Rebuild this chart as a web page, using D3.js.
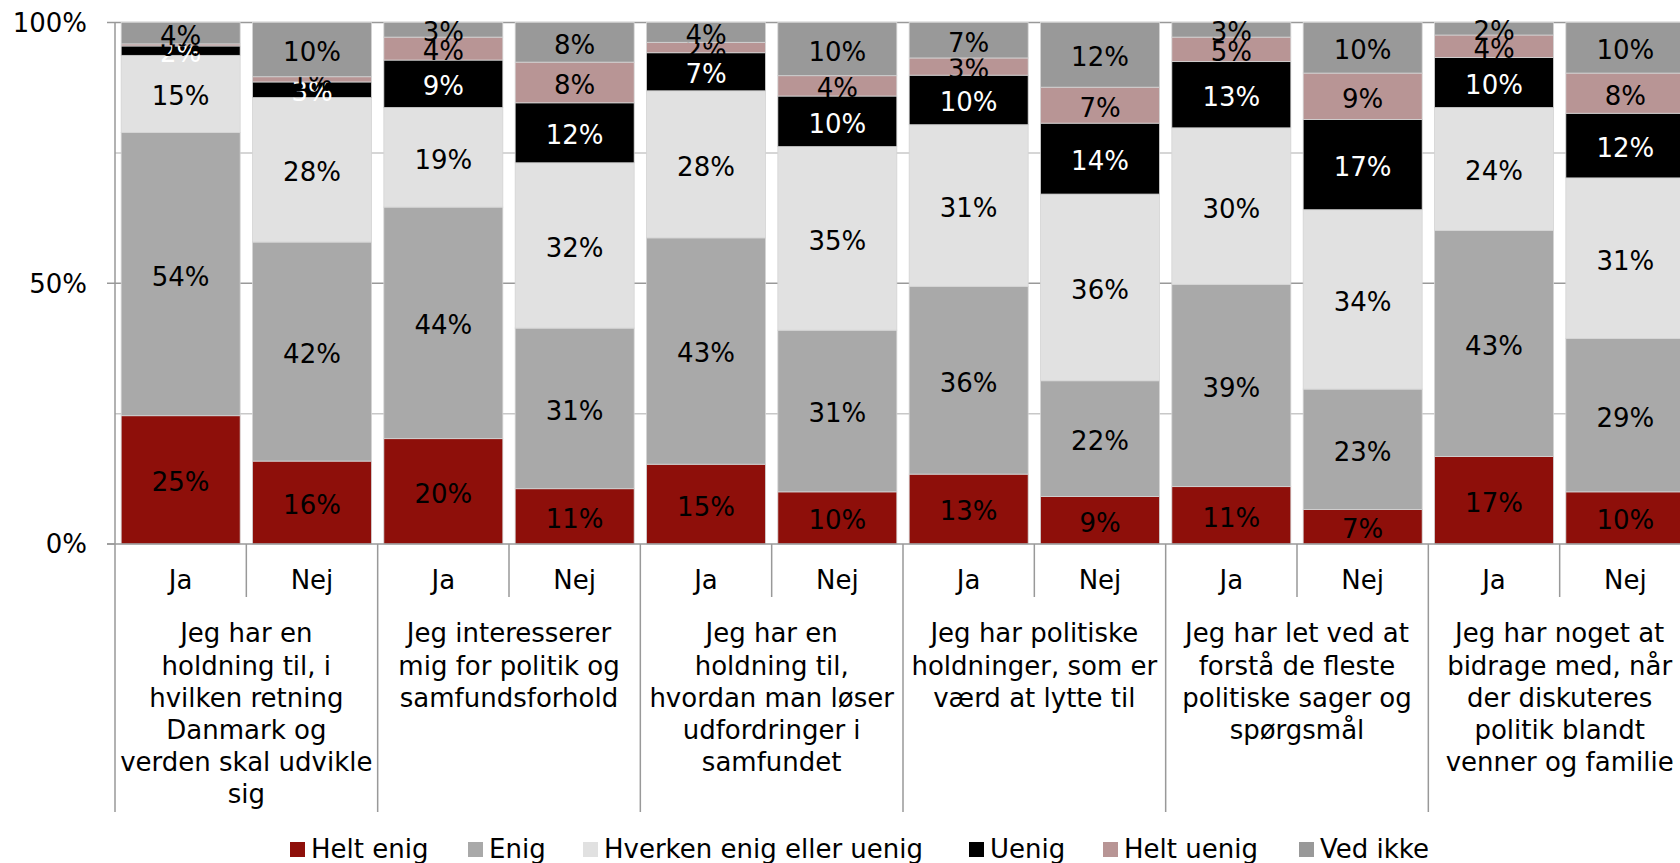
<!DOCTYPE html>
<html>
<head>
<meta charset="utf-8">
<script src="https://cdn.jsdelivr.net/npm/d3@7"></script>
<style>
  body { margin: 0; background: #fff; }
  svg { display: block; font-family: "DejaVu Sans", Verdana, sans-serif; }
</style>
</head>
<body>
<div id="chart"></div>
<script>
// statements (each wrapped into lines like in the original)
const groups = [
    ["Jeg har en", "holdning til, i", "hvilken retning", "Danmark og", "verden skal udvikle", "sig"],
    ["Jeg interesserer", "mig for politik og", "samfundsforhold"],
    ["Jeg har en", "holdning til,", "hvordan man løser", "udfordringer i", "samfundet"],
    ["Jeg har politiske", "holdninger, som er", "værd at lytte til"],
    ["Jeg har let ved at", "forstå de fleste", "politiske sager og", "spørgsmål"],
    ["Jeg har noget at", "bidrage med, når", "der diskuteres", "politik blandt", "venner og familie"]
];
const answers = ["Ja", "Nej"];
const series = ["Helt enig", "Enig", "Hverken enig eller uenig", "Uenig", "Helt uenig", "Ved ikke"];
const colors = ["#8e0f0a", "#a9a9a9", "#e1e1e1", "#000000", "#b89595", "#999999"];
const yTicks = [0, 50, 100];

// percentages per bar (Ja, Nej for each statement)
const heltEnig  = [24.6, 15.9, 20.2, 10.6, 15.3, 10.0, 13.4, 9.1, 11.0, 6.6, 16.8, 10.0];
const enig      = [54.3, 42.0, 44.4, 30.8, 43.4, 31.0, 36.0, 22.2, 38.8, 23.1, 43.3, 29.4];
const hverken   = [14.8, 27.7, 19.1, 31.7, 28.2, 35.2, 31.0, 35.8, 30.0, 34.4, 23.6, 30.8];
const uenig     = [1.8, 3.0, 9.1, 11.5, 7.3, 9.7, 9.5, 13.6, 12.7, 17.3, 9.6, 12.4];
const heltUenig = [0.4, 1.0, 4.4, 7.8, 2.0, 3.9, 3.3, 6.9, 4.7, 8.9, 4.3, 7.7];
const vedIkke   = [4.1, 10.4, 2.8, 7.6, 3.8, 10.2, 6.8, 12.4, 2.8, 9.7, 2.4, 9.7];

const valueArrays = [heltEnig, enig, hverken, uenig, heltUenig, vedIkke];

const rows = [];
groups.forEach(function(g, gi) {
    answers.forEach(function(a, ai) {
        const i = gi * 2 + ai;
        const row = { key: gi + "-" + a, group: gi, answer: a };
        series.forEach(function(s, si) { row[s] = valueArrays[si][i]; });
        rows.push(row);
    });
});

const width = 1680, height = 863;
const plotLeft = 115, plotRight = 1691, plotTop = 22.5, plotBottom = 544;

const svg = d3.select("#chart")
    .append("svg")
    .attr("width", width)
    .attr("height", height);

const x = d3.scaleBand()
    .domain(rows.map(d => d.key))
    .range([plotLeft, plotRight])
    .paddingInner(0.094)
    .paddingOuter(0.047);

const xGroup = d3.scaleBand()
    .domain(d3.range(groups.length))
    .range([plotLeft, plotRight]);

const y = d3.scaleLinear()
    .domain([0, 100])
    .range([plotBottom, plotTop]);

// gridlines (minor at 25/75 are lighter)
svg.append("g")
    .selectAll("line")
    .data([25, 50, 75, 100])
    .enter()
    .append("line")
    .attr("x1", plotLeft)
    .attr("x2", plotRight)
    .attr("y1", d => y(d))
    .attr("y2", d => y(d))
    .attr("stroke", d => (d % 50 === 0) ? "#999" : "#c8c8c8")
    .attr("stroke-width", 1.5);

const stacked = d3.stack().keys(series)(rows);

const layers = svg.append("g")
    .selectAll("g")
    .data(stacked)
    .enter()
    .append("g")
    .attr("fill", (d, i) => colors[i]);

layers.selectAll("rect")
    .data(d => d)
    .enter()
    .append("rect")
    .attr("x", d => x(d.data.key))
    .attr("width", x.bandwidth())
    .attr("y", d => y(d[1]))
    .attr("height", d => y(d[0]) - y(d[1]))
    .attr("stroke", "#d4d4d4")
    .attr("stroke-width", 0.8);

// value labels
layers.each(function(layer, li) {
    d3.select(this).selectAll("text")
        .data(layer)
        .enter()
        .append("text")
        .attr("x", d => x(d.data.key) + x.bandwidth() / 2)
        .attr("y", d => (y(d[0]) + y(d[1])) / 2)
        .attr("dy", "0.44em")
        .attr("text-anchor", "middle")
        .attr("font-size", 26)
        .attr("fill", series[li] === "Uenig" ? "#fff" : "#000")
        .text(d => Math.round(d[1] - d[0]) + "%");
});

// y axis
const axisColor = "#999";
svg.append("line")
    .attr("x1", plotLeft).attr("x2", plotLeft)
    .attr("y1", plotTop).attr("y2", plotBottom)
    .attr("stroke", axisColor).attr("stroke-width", 1.5);

const yAxis = svg.append("g");
yAxis.selectAll("line")
    .data(yTicks)
    .enter()
    .append("line")
    .attr("x1", plotLeft - 8).attr("x2", plotLeft)
    .attr("y1", d => y(d)).attr("y2", d => y(d))
    .attr("stroke", axisColor).attr("stroke-width", 1.5);
yAxis.selectAll("text")
    .data(yTicks)
    .enter()
    .append("text")
    .attr("x", 87)
    .attr("y", d => y(d))
    .attr("dy", "0.36em")
    .attr("text-anchor", "end")
    .attr("font-size", 26)
    .text(d => d + "%");

// x axis baseline
svg.append("line")
    .attr("x1", plotLeft - 8).attr("x2", plotRight)
    .attr("y1", plotBottom).attr("y2", plotBottom)
    .attr("stroke", axisColor).attr("stroke-width", 1.5);

// group separators (long) and Ja/Nej separators (short)
const seps = d3.range(groups.length + 1).map(i => plotLeft + i * xGroup.step());
svg.append("g")
    .selectAll("line")
    .data(seps)
    .enter()
    .append("line")
    .attr("x1", d => d).attr("x2", d => d)
    .attr("y1", plotBottom).attr("y2", 812)
    .attr("stroke", axisColor).attr("stroke-width", 1.5);

svg.append("g")
    .selectAll("line")
    .data(d3.range(groups.length))
    .enter()
    .append("line")
    .attr("x1", d => xGroup(d) + xGroup.bandwidth() / 2)
    .attr("x2", d => xGroup(d) + xGroup.bandwidth() / 2)
    .attr("y1", plotBottom).attr("y2", 597)
    .attr("stroke", axisColor).attr("stroke-width", 1.5);

// Ja / Nej labels
svg.append("g")
    .selectAll("text")
    .data(rows)
    .enter()
    .append("text")
    .attr("x", d => x(d.key) + x.bandwidth() / 2)
    .attr("y", 580)
    .attr("dy", "0.36em")
    .attr("text-anchor", "middle")
    .attr("font-size", 26)
    .text(d => d.answer);

// statement labels
const catText = svg.append("g")
    .selectAll("text")
    .data(groups)
    .enter()
    .append("text")
    .attr("text-anchor", "middle")
    .attr("font-size", 26);

catText.selectAll("tspan")
    .data((d, gi) => d.map(line => ({ line: line, gi: gi })))
    .enter()
    .append("tspan")
    .attr("x", d => xGroup(d.gi) + xGroup.bandwidth() / 2)
    .attr("y", (d, i) => 633 + i * 32.2)
    .attr("dy", "0.36em")
    .text(d => d.line);

const legendX = [290, 468, 583, 969, 1103, 1299];
const legend = svg.append("g");
series.forEach(function(s, i) {
    legend.append("rect")
        .attr("x", legendX[i])
        .attr("y", 842)
        .attr("width", 15)
        .attr("height", 15)
        .attr("fill", colors[i]);
    legend.append("text")
        .attr("x", legendX[i] + 21)
        .attr("y", 849)
        .attr("dy", "0.36em")
        .attr("font-size", 26)
        .text(s);
});
</script>
</body>
</html>
